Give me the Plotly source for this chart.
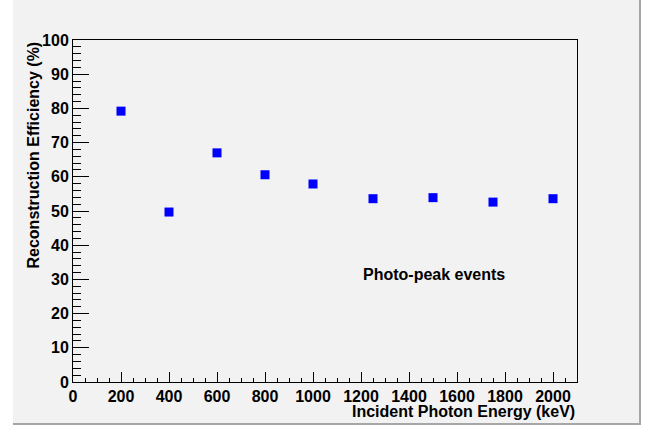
import plotly.graph_objects as go

energy_kev = [200, 400, 600, 800, 1000, 1250, 1500, 1750, 2000]
efficiency_pct = [79.2, 49.7, 67.0, 60.6, 57.9, 53.6, 53.9, 52.6, 53.6]

W, H = 649, 425
L, R, T, B = 73, 72, 40, 43
pw = W - L - R
ph = H - T - B

def px(xp):
    return (xp - L) / pw

def py(yp):
    return (H - B - yp) / ph

FONT = "Liberation Sans, Arial, Helvetica, sans-serif"

fig = go.Figure()
fig.add_trace(go.Scatter(
    x=energy_kev, y=efficiency_pct, mode="markers",
    marker=dict(symbol="square", size=9, color="#0000ff", line=dict(width=0)),
    showlegend=False,
))

shapes = [
    dict(type="rect", xref="paper", yref="paper", x0=px(13), x1=px(640), y0=py(424), y1=py(-2),
         fillcolor="#f2f2f2", line=dict(width=0), layer="below"),
    dict(type="line", xref="paper", yref="paper", x0=px(640), x1=px(640), y0=py(424), y1=py(-2),
         line=dict(color="#a6a6a6", width=2), layer="below"),
    dict(type="line", xref="paper", yref="paper", x0=px(13), x1=px(641), y0=py(424), y1=py(424),
         line=dict(color="#a6a6a6", width=2), layer="below"),
]

annotations = [
    dict(text="Incident Photon Energy (keV)", xref="paper", yref="paper", x=1.0, y=py(411),
         xanchor="right", yanchor="middle", showarrow=False,
         font=dict(family=FONT, size=16, color="black", weight="bold")),
    dict(text="Reconstruction Efficiency (%)", xref="paper", yref="paper", x=px(33), y=1.0,
         xanchor="center", yanchor="top", textangle=-90, showarrow=False,
         font=dict(family=FONT, size=16, color="black", weight="bold")),
    dict(text="Photo-peak events", xref="paper", yref="paper", x=px(361), y=py(274),
         xanchor="left", yanchor="middle", showarrow=False,
         font=dict(family=FONT, size=16, color="black", weight="bold")),
]

fig.update_layout(
    width=W, height=H,
    margin=dict(l=L, r=R, t=T, b=B, pad=0),
    paper_bgcolor="white",
    plot_bgcolor="rgba(0,0,0,0)",
    shapes=shapes,
    annotations=annotations,
    font=dict(family=FONT, color="black"),
    xaxis=dict(
        range=[0, 2100], tickmode="linear", tick0=0, dtick=200,
        ticks="inside", ticklen=10, tickwidth=1, tickcolor="black",
        minor=dict(ticks="inside", ticklen=4, dtick=50, tickwidth=1, tickcolor="black", showgrid=False),
        showline=True, linecolor="black", linewidth=1, mirror=True,
        showgrid=False, zeroline=False,
        tickfont=dict(family=FONT, size=16, color="black", weight="bold"),
    ),
    yaxis=dict(
        range=[0, 100], tickmode="linear", tick0=0, dtick=10,
        ticks="inside", ticklen=16, tickwidth=1, tickcolor="black",
        minor=dict(ticks="inside", ticklen=8, dtick=2, tickwidth=1, tickcolor="black", showgrid=False),
        showline=True, linecolor="black", linewidth=1, mirror=True,
        showgrid=False, zeroline=False,
        tickfont=dict(family=FONT, size=16, color="black", weight="bold"),
    ),
)

fig.write_html("out.html", config={"displayModeBar": False},
               post_script="document.body.style.margin='0';document.body.style.overflow='hidden';")
